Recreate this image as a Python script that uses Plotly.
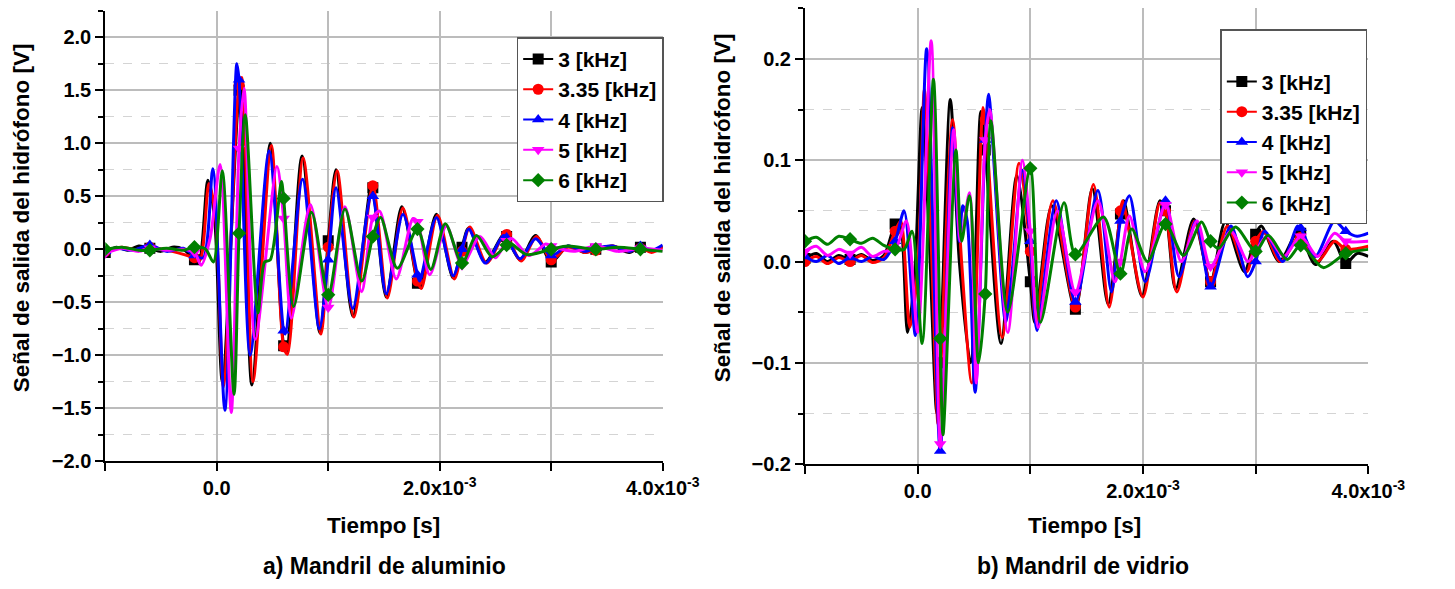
import plotly.graph_objects as go

# ---------------- data (time in ms, signal in V) ----------------
NAMES = ["3 [kHz]", "3.35 [kHz]", "4 [kHz]", "5 [kHz]", "6 [kHz]"]
COLORS = ["#000000", "#ff0000", "#0000ff", "#ff00ff", "#008000"]
SYMBOLS = ["square", "circle", "triangle-up", "triangle-down", "diamond"]
MARKER_TIMES = [-1.0, -0.6, -0.2, 0.2, 0.6, 1.0, 1.4, 1.8, 2.2, 2.6, 3.0, 3.4, 3.8]

# a) Mandril de aluminio
AL_T_3 = [-1.0, -0.9, -0.8, -0.7, -0.6, -0.5, -0.4, -0.3, -0.2, -0.16,
          -0.08, -0.02, 0.05, 0.2, 0.215, 0.315, 0.48, 0.6, 0.625, 0.765,
          0.925, 1.0, 1.07, 1.22, 1.385, 1.4, 1.52, 1.66, 1.8, 1.82,
          1.97, 2.12, 2.2, 2.26, 2.41, 2.57, 2.6, 2.72, 2.86, 3.0,
          3.15, 3.3, 3.4, 3.55, 3.7, 3.8, 3.9, 4.0]
AL_V_3 = [-0.03, 0.02, -0.01, 0.03, 0.01, -0.02, 0.02, 0.0, -0.1, -0.12,
          0.65, 0.3, -1.25, 1.5, 1.56, -1.28, 1.0, -0.91, -0.97, 0.88,
          -0.79, 0.08, 0.75, -0.63, 0.6, 0.58, -0.45, 0.4, -0.32, -0.36,
          0.33, -0.27, 0.02, 0.2, -0.12, 0.14, 0.12, -0.1, 0.13, -0.12,
          0.03, -0.03, 0.0, 0.03, -0.03, 0.02, -0.02, 0.03]
AL_T_335 = [-1.0, -0.85, -0.7, -0.6, -0.4, -0.2, -0.15, -0.07, -0.01, 0.06,
            0.2, 0.225, 0.325, 0.49, 0.6, 0.635, 0.775, 0.935, 1.0, 1.08,
            1.23, 1.4, 1.53, 1.67, 1.8, 1.835, 1.98, 2.13, 2.2, 2.27,
            2.42, 2.58, 2.6, 2.73, 2.87, 3.0, 3.15, 3.3, 3.4, 3.55,
            3.7, 3.8, 3.9, 4.0]
AL_V_335 = [-0.02, 0.02, -0.01, 0.02, -0.02, -0.08, -0.1, 0.62, 0.3, -1.3,
            1.55, 1.62, -1.25, 0.98, -0.92, -0.99, 0.86, -0.8, 0.02, 0.74,
            -0.64, 0.6, -0.46, 0.39, -0.3, -0.37, 0.32, -0.28, -0.02, 0.21,
            -0.13, 0.15, 0.14, -0.11, 0.12, -0.1, 0.02, -0.03, -0.01, 0.03,
            -0.02, 0.01, -0.03, 0.02]
AL_T_4 = [-1.0, -0.9, -0.75, -0.6, -0.45, -0.3, -0.2, -0.12, -0.035, 0.073,
          0.18, 0.2, 0.30, 0.47, 0.6, 0.615, 0.77, 0.92, 1.0, 1.07,
          1.22, 1.38, 1.4, 1.52, 1.67, 1.8, 1.82, 1.97, 2.12, 2.2,
          2.26, 2.41, 2.57, 2.6, 2.72, 2.86, 3.0, 3.15, 3.3, 3.4,
          3.55, 3.7, 3.8, 3.9, 4.0]
AL_V_4 = [-0.02, 0.01, -0.01, 0.04, -0.02, 0.01, -0.06, -0.08, 0.76, -1.52,
          1.75, 1.6, -1.0, 0.93, -0.77, -0.8, 0.66, -0.75, -0.1, 0.58,
          -0.56, 0.5, 0.5, -0.42, 0.33, -0.24, -0.3, 0.3, -0.25, 0.0,
          0.19, -0.13, 0.13, 0.11, -0.09, 0.1, -0.06, 0.03, -0.02, 0.01,
          0.03, -0.02, 0.03, -0.01, 0.04]
AL_T_5 = [-1.0, -0.85, -0.7, -0.6, -0.45, -0.3, -0.2, -0.14, -0.06, 0.03,
          0.13, 0.2, 0.245, 0.345, 0.54, 0.6, 0.67, 0.84, 1.0, 1.15,
          1.3, 1.4, 1.46, 1.61, 1.76, 1.8, 1.91, 2.06, 2.2, 2.36,
          2.5, 2.6, 2.65, 2.8, 2.95, 3.0, 3.2, 3.4, 3.6, 3.8,
          4.0]
AL_V_5 = [-0.04, 0.01, -0.02, 0.01, -0.01, 0.0, -0.03, -0.15, 0.1, 0.8,
          -1.54, 0.95, 1.52, -0.85, 0.78, 0.29, -0.65, 0.42, -0.55, 0.4,
          -0.4, 0.3, 0.36, -0.28, 0.29, 0.26, -0.24, 0.22, -0.15, 0.12,
          -0.08, 0.08, 0.1, -0.06, 0.05, 0.03, -0.02, 0.03, -0.02, 0.01,
          -0.01]
AL_T_6 = [-1.0, -0.85, -0.7, -0.6, -0.45, -0.3, -0.2, -0.1, -0.03, 0.05,
          0.155, 0.2, 0.256, 0.37, 0.43, 0.48, 0.58, 0.6, 0.69, 0.85,
          1.0, 1.15, 1.3, 1.4, 1.47, 1.62, 1.8, 1.92, 2.05, 2.2,
          2.33, 2.47, 2.6, 2.63, 2.78, 3.0, 3.15, 3.4, 3.6, 3.8,
          4.0]
AL_V_6 = [0.0, 0.02, -0.01, -0.01, 0.01, -0.01, 0.02, 0.0, -0.12, 0.74,
          -1.37, 0.15, 1.27, -0.6, -0.12, -0.1, 0.64, 0.48, -0.54, 0.35,
          -0.43, 0.38, -0.3, 0.12, 0.3, -0.18, 0.19, -0.19, 0.24, -0.13,
          0.13, -0.07, 0.04, 0.06, -0.05, 0.0, 0.03, 0.0, 0.02, 0.0,
          -0.02]

# b) Mandril de vidrio
VI_T_3 = [-1.0, -0.9, -0.8, -0.7, -0.6, -0.5, -0.4, -0.3, -0.2, -0.16,
          -0.09, -0.03, 0.04, 0.1, 0.17, 0.2, 0.29, 0.37, 0.47, 0.56,
          0.6, 0.74, 0.88, 1.0, 1.04, 1.19, 1.4, 1.55, 1.69, 1.8,
          1.83, 1.99, 2.15, 2.2, 2.29, 2.45, 2.6, 2.73, 2.9, 3.0,
          3.05, 3.21, 3.37, 3.4, 3.53, 3.69, 3.8, 3.9, 4.0]
VI_V_3 = [0.003, 0.008, 0.0, 0.006, 0.002, 0.007, 0.001, 0.006, 0.037, 0.04,
          -0.07, -0.02, 0.152, 0.03, -0.15, -0.1, 0.16, 0.0, -0.1, 0.148,
          0.11, -0.081, 0.085, -0.02, -0.06, 0.055, -0.047, 0.072, -0.042, 0.047,
          0.06, -0.034, 0.06, 0.05, -0.027, 0.042, -0.02, 0.039, -0.01, 0.027,
          0.035, 0.0, 0.03, 0.028, -0.003, 0.02, -0.002, 0.008, 0.005]
VI_T_335 = [-1.0, -0.9, -0.8, -0.7, -0.6, -0.5, -0.4, -0.3, -0.2, -0.15,
            -0.07, 0.0, 0.06, 0.12, 0.18, 0.2, 0.31, 0.39, 0.48, 0.58,
            0.6, 0.75, 0.9, 1.0, 1.05, 1.2, 1.4, 1.56, 1.7, 1.8,
            1.82, 2.0, 2.15, 2.2, 2.3, 2.46, 2.6, 2.75, 2.92, 3.0,
            3.07, 3.22, 3.38, 3.4, 3.55, 3.7, 3.8, 4.0]
VI_V_335 = [0.0, 0.005, -0.002, 0.004, 0.0, 0.006, -0.001, 0.004, 0.03, 0.04,
            -0.065, -0.01, 0.17, 0.02, -0.16, -0.12, 0.14, 0.0, -0.12, 0.152,
            0.14, -0.075, 0.097, 0.01, -0.06, 0.06, -0.045, 0.076, -0.045, 0.05,
            0.06, -0.035, 0.058, 0.05, -0.03, 0.04, -0.02, 0.035, -0.01, 0.02,
            0.03, 0.0, 0.025, 0.024, 0.0, 0.02, 0.012, 0.015]
VI_T_4 = [-1.0, -0.9, -0.8, -0.7, -0.6, -0.5, -0.4, -0.3, -0.2, -0.12,
          -0.02, 0.08, 0.2, 0.31, 0.37, 0.4, 0.44, 0.51, 0.6, 0.63,
          0.78, 0.83, 0.93, 1.0, 1.06, 1.23, 1.4, 1.6, 1.72, 1.8,
          1.88, 2.02, 2.2, 2.32, 2.47, 2.6, 2.78, 2.93, 3.0, 3.08,
          3.24, 3.37, 3.4, 3.53, 3.7, 3.8, 3.9, 4.0]
VI_V_4 = [0.005, 0.0, 0.006, -0.002, 0.004, 0.0, 0.005, 0.002, 0.02, 0.05,
          -0.073, 0.21, -0.187, 0.132, 0.02, 0.055, 0.04, -0.129, 0.12, 0.165,
          -0.06, -0.02, 0.09, 0.02, -0.068, 0.06, -0.04, 0.07, -0.03, 0.04,
          0.065, -0.02, 0.06, -0.015, 0.04, -0.025, 0.035, -0.015, 0.0, 0.03,
          0.0, 0.035, 0.033, 0.005, 0.04, 0.03, 0.025, 0.028]
VI_T_5 = [-1.0, -0.9, -0.8, -0.7, -0.6, -0.5, -0.4, -0.3, -0.2, -0.1,
          0.0, 0.12, 0.2, 0.32, 0.38, 0.46, 0.52, 0.6, 0.64, 0.8,
          0.93, 1.0, 1.07, 1.24, 1.4, 1.6, 1.75, 1.8, 1.88, 2.02,
          2.2, 2.34, 2.48, 2.6, 2.78, 2.93, 3.0, 3.1, 3.25, 3.4,
          3.55, 3.7, 3.8, 4.0]
VI_V_5 = [0.01, 0.015, 0.006, 0.012, 0.008, 0.014, 0.005, 0.01, 0.012, 0.04,
          -0.07, 0.218, -0.18, 0.13, 0.02, 0.068, -0.12, 0.12, 0.15, -0.07,
          0.1, 0.03, -0.065, 0.05, -0.03, 0.06, -0.02, 0.0, 0.045, -0.01,
          0.056, 0.0, 0.04, -0.005, 0.03, 0.0, 0.01, 0.025, 0.005, 0.025,
          0.005, 0.028, 0.02, 0.02]
VI_T_6 = [-1.0, -0.9, -0.8, -0.7, -0.6, -0.5, -0.4, -0.3, -0.2, -0.12,
          -0.05, 0.04, 0.14, 0.2, 0.225, 0.34, 0.39, 0.46, 0.54, 0.6,
          0.65, 0.8, 1.0, 1.09, 1.3, 1.4, 1.65, 1.8, 1.9, 2.04,
          2.2, 2.36, 2.52, 2.6, 2.67, 2.82, 3.0, 3.11, 3.28, 3.4,
          3.6, 3.8, 4.0]
VI_V_6 = [0.02, 0.024, 0.017, 0.025, 0.022, 0.018, 0.023, 0.016, 0.012, 0.012,
          0.03, -0.081, 0.18, -0.076, -0.171, 0.11, 0.02, 0.065, -0.1, -0.032,
          0.139, -0.05, 0.092, -0.06, 0.058, 0.007, 0.044, -0.012, 0.032, 0.0,
          0.037, 0.006, 0.039, 0.02, 0.013, 0.034, 0.01, 0.026, 0.002, 0.016,
          -0.006, 0.008, 0.012]

AL_T = [AL_T_3, AL_T_335, AL_T_4, AL_T_5, AL_T_6]
AL_V = [AL_V_3, AL_V_335, AL_V_4, AL_V_5, AL_V_6]
VI_T = [VI_T_3, VI_T_335, VI_T_4, VI_T_5, VI_T_6]
VI_V = [VI_V_3, VI_V_335, VI_V_4, VI_V_5, VI_V_6]

X_TICKS_MS = [-1.0, 0.0, 1.0, 2.0, 3.0, 4.0]
X_TICK_TEXT = ["", "0.0", "", "2.0x10<sup>-3</sup>", "", "4.0x10<sup>-3</sup>"]

FONT = "Liberation Sans, Arial, sans-serif"
W, H = 1455, 589

fig = go.Figure()


def add_chart(Ts, Vs, xa, ya, leg, blank_first=False):
    if blank_first:
        fig.add_trace(go.Scatter(x=[None], y=[None], mode="lines", name=" ",
                                 line=dict(color="rgba(0,0,0,0)", width=1),
                                 xaxis=xa, yaxis=ya, legend=leg, hoverinfo="skip"))
    for name, col, sym, T, V in zip(NAMES, COLORS, SYMBOLS, Ts, Vs):
        assert len(T) == len(V), name
        x = [t * 1e-3 for t in T]
        fig.add_trace(go.Scatter(x=x, y=V, mode="lines",
                                 line=dict(color=col, width=3, shape="spline", smoothing=0.8),
                                 xaxis=xa, yaxis=ya, showlegend=False, hoverinfo="skip"))
        mx, my = [], []
        for t, v in zip(T, V):
            if any(abs(t - m) < 1e-6 for m in MARKER_TIMES):
                mx.append(t * 1e-3)
                my.append(v)
        fig.add_trace(go.Scatter(x=mx, y=my, mode="markers",
                                 marker=dict(symbol=sym, size=11, color=col, line=dict(width=0)),
                                 xaxis=xa, yaxis=ya, showlegend=False, hoverinfo="skip"))
        fig.add_trace(go.Scatter(x=[None], y=[None], mode="lines+markers", name=name,
                                 line=dict(color=col, width=2),
                                 marker=dict(symbol=sym, size=11, color=col),
                                 xaxis=xa, yaxis=ya, legend=leg))


add_chart(AL_T, AL_V, "x", "y", "legend")
add_chart(VI_T, VI_V, "x2", "y2", "legend2", blank_first=True)

tickfont = dict(family=FONT, size=20, color="black", weight="bold")
xcommon = dict(range=[-1e-3, 4e-3], tickvals=[t * 1e-3 for t in X_TICKS_MS], ticktext=X_TICK_TEXT,
               showline=True, linecolor="black", linewidth=2, ticks="outside", ticklen=8,
               tickwidth=2, tickcolor="black", showgrid=True, gridcolor="#bcbcbc", gridwidth=1.5,
               zeroline=False, tickfont=tickfont)
ycommon = dict(showline=True, linecolor="black", linewidth=2, ticks="outside", ticklen=8,
               tickwidth=2, tickcolor="black", showgrid=True, gridcolor="#bcbcbc", gridwidth=1.5,
               zeroline=False, tickfont=tickfont, tickformat=".1f")

legend_font = dict(family=FONT, size=21, color="black", weight="bold")
fig.update_layout(
    width=W, height=H, margin=dict(l=0, r=0, t=0, b=0),
    paper_bgcolor="white", plot_bgcolor="white",
    font=dict(family=FONT, color="black"),
    xaxis=dict(domain=[108 / W, 680 / W], anchor="y", **xcommon),
    yaxis=dict(domain=[(H - 470) / H, (H - 11) / H], anchor="x", range=[-2.0, 2.25],
               tick0=0, dtick=0.5,
               minor=dict(dtick=0.25, ticks="outside", ticklen=5, tickwidth=1.5, tickcolor="black",
                          showgrid=True, gridcolor="#d4d4d4", gridwidth=1, griddash="dash"),
               **ycommon),
    xaxis2=dict(domain=[826 / W, 1404 / W], anchor="y2", **xcommon),
    yaxis2=dict(domain=[(H - 473) / H, (H - 8.4) / H], anchor="x2", range=[-0.2, 0.25],
                tick0=0, dtick=0.1,
                minor=dict(dtick=0.05, ticks="outside", ticklen=5, tickwidth=1.5, tickcolor="black",
                           showgrid=True, gridcolor="#d4d4d4", gridwidth=1, griddash="dash"),
                **ycommon),
    legend=dict(x=681 / W, xanchor="right", y=1 - 38 / H, yanchor="top",
                bgcolor="white", bordercolor="#555555", borderwidth=1.5,
                font=legend_font, tracegroupgap=0),
    legend2=dict(x=1403 / W, xanchor="right", y=1 - 30 / H, yanchor="top",
                 bgcolor="white", bordercolor="#555555", borderwidth=1.5,
                 font=legend_font, tracegroupgap=0),
)

ann_font = dict(family=FONT, size=22.5, color="black", weight="bold")
sub_font = dict(family=FONT, size=23, color="black", weight="bold")
annotations = [
    dict(text="Tiempo [s]", x=394 / W, y=1 - 536 / H, font=ann_font),
    dict(text="Tiempo [s]", x=1113 / W, y=1 - 536 / H, font=ann_font),
    dict(text="a) Mandril de aluminio", x=395 / W, y=1 - 577 / H, font=sub_font),
    dict(text="b) Mandril de vidrio", x=1111 / W, y=1 - 577 / H, font=sub_font),
    dict(text="Señal de salida del hidrófono [V]", x=22 / W, y=1 - 222 / H, textangle=-90, font=ann_font),
    dict(text="Señal de salida del hidrófono [V]", x=741 / W, y=1 - 212 / H, textangle=-90, font=ann_font),
]
for a in annotations:
    a.update(xref="paper", yref="paper", showarrow=False, xanchor="center", yanchor="middle")
fig.update_layout(annotations=annotations)

fig.write_html("out.html")
